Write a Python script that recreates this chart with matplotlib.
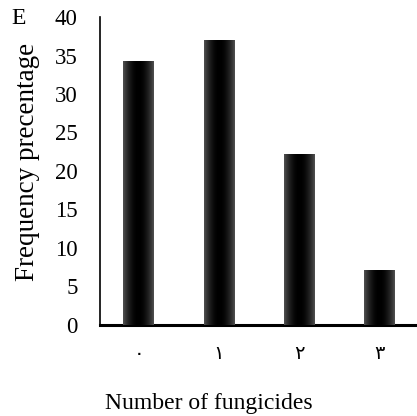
import numpy as np
import matplotlib
matplotlib.use('Agg')
import matplotlib.pyplot as plt

## data
categories = ['٠', '١', '٢', '٣']
values = [34.2, 37.0, 22.1, 7.1]
yticks = [0, 5, 10, 15, 20, 25, 30, 35, 40]

plt.rcParams['font.family'] = ['Liberation Serif', 'DejaVu Sans']

fig = plt.figure(figsize=(4.17, 4.16), dpi=100)
ax = fig.add_axes([0.24, 0.219, 0.76, 0.74])

x = np.arange(len(categories))
width = 0.38
bars = ax.bar(x, values, width=width, color='black', zorder=2)

# soft horizontal shading on each bar (dark center, greyer edges)
grad = np.abs(np.linspace(-1, 1, 64)) ** 2
grad = grad.reshape(1, -1)
for b in bars:
    x0, y0 = b.get_x(), b.get_y()
    ax.imshow(grad, cmap='gray', vmin=0, vmax=3.2, aspect='auto',
              extent=[x0, x0 + b.get_width(), y0, y0 + b.get_height()],
              zorder=3, interpolation='bilinear')

ax.set_xlim(-0.48, 3.47)
ax.set_ylim(0, 40)
ax.set_yticks(yticks)
ax.set_xticks(x)
ax.set_xticklabels(categories, fontsize=14)
ax.tick_params(axis='y', length=0, labelsize=16.5, pad=16)
ax.tick_params(axis='x', length=0, pad=15)
for s in ['top', 'right']:
    ax.spines[s].set_visible(False)
ax.spines['left'].set_linewidth(1.2)
ax.spines['bottom'].set_linewidth(2.2)

fig.text(0.065, 0.61, 'Frequency precentage', fontsize=19.5,
         rotation=90, ha='center', va='center')
fig.text(0.5, 0.03, 'Number of fungicides', fontsize=17,
         ha='center', va='center')
fig.text(0.028, 0.955, 'E', fontsize=17, va='center')

fig.savefig('out.png', dpi=100)
